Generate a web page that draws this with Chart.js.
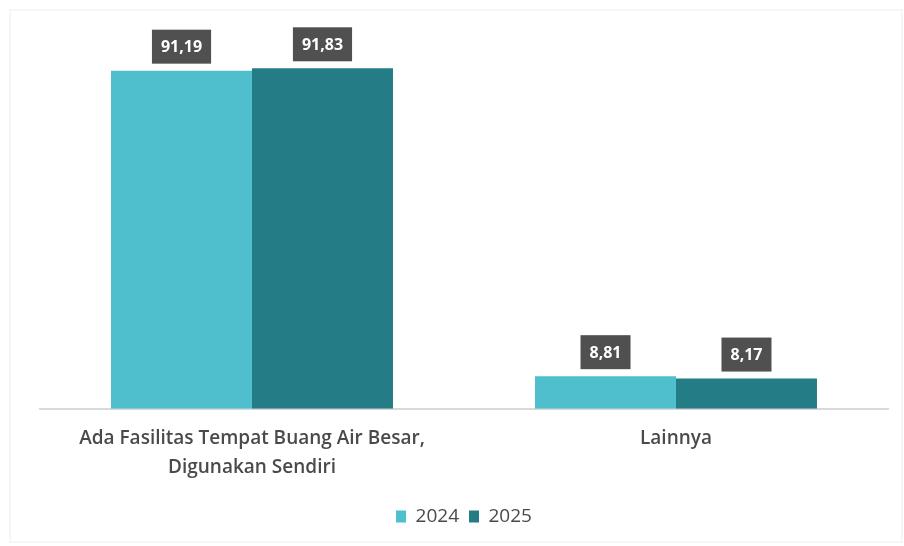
<!DOCTYPE html>
<html><head><meta charset="utf-8">
<script src="https://cdn.jsdelivr.net/npm/chart.js@4.4.1/dist/chart.umd.min.js"></script>
<style>html,body{margin:0;padding:0;background:#fff}#wrap{width:904px;height:546px;position:relative}</style>
</head><body><div id="wrap"><canvas id="c" width="904" height="546"></canvas></div>
<script>
const categories = [["Ada Fasilitas Tempat Buang Air Besar,", "Digunakan Sendiri"], "Lainnya"];
const seriesNames = ["2024", "2025"];
const values2024 = [91.19, 8.81];
const values2025 = [91.83, 8.17];
const colors = ["#4FBFCD", "#237C86"];

const framePlugin = {
  id: 'frame',
  beforeDraw(chart) {
    const ctx = chart.ctx;
    ctx.save();
    ctx.strokeStyle = '#f6f6f6';
    ctx.lineWidth = 2;
    ctx.strokeRect(10, 10, chart.width - 12, chart.height - 14);
    ctx.restore();
  }
};

const labelPlugin = {
  id: 'boxLabels',
  afterDatasetsDraw(chart) {
    const ctx = chart.ctx;
    ctx.save();
    ctx.font = 'bold 16px "Open Sans", sans-serif';
    ctx.textAlign = 'center';
    ctx.textBaseline = 'middle';
    chart.data.datasets.forEach((ds, di) => {
      chart.getDatasetMeta(di).data.forEach((bar, i) => {
        const txt = ds.data[i].toFixed(2).replace('.', ',');
        const w = ctx.measureText(txt).width + 18;
        const h = 34;
        const cx = bar.x, bottom = bar.y - 7;
        ctx.fillStyle = '#505050';
        ctx.fillRect(cx - w / 2, bottom - h, w, h);
        ctx.fillStyle = '#ffffff';
        ctx.fillText(txt, cx, bottom - h / 2 + 1);
      });
    });
    ctx.restore();
  }
};

new Chart(document.getElementById('c'), {
  type: 'bar',
  data: {
    labels: categories,
    datasets: [
      { label: seriesNames[0], data: values2024, backgroundColor: colors[0] },
      { label: seriesNames[1], data: values2025, backgroundColor: colors[1] }
    ]
  },
  options: {
    responsive: false,
    animation: false,
    layout: { padding: { top: 38, left: 40, right: 16, bottom: 10 } },
    datasets: { bar: { categoryPercentage: 0.665, barPercentage: 1.0 } },
    scales: {
      x: {
        grid: { display: false, drawTicks: false },
        border: { display: true, color: '#d9d9d9', width: 2 },
        ticks: { color: '#4a4a4a', font: { family: '"Open Sans", sans-serif', size: 19, weight: '600', lineHeight: 1.53 }, padding: 15, maxRotation: 0 }
      },
      y: { display: false, min: 0, max: 100 }
    },
    plugins: {
      legend: {
        position: 'bottom',
        labels: { boxWidth: 10, boxHeight: 12, color: '#4a4a4a', font: { family: '"Open Sans", sans-serif', size: 19 }, padding: 10 }
      },
      tooltip: { enabled: false }
    }
  },
  plugins: [framePlugin, labelPlugin]
});
</script></body></html>
